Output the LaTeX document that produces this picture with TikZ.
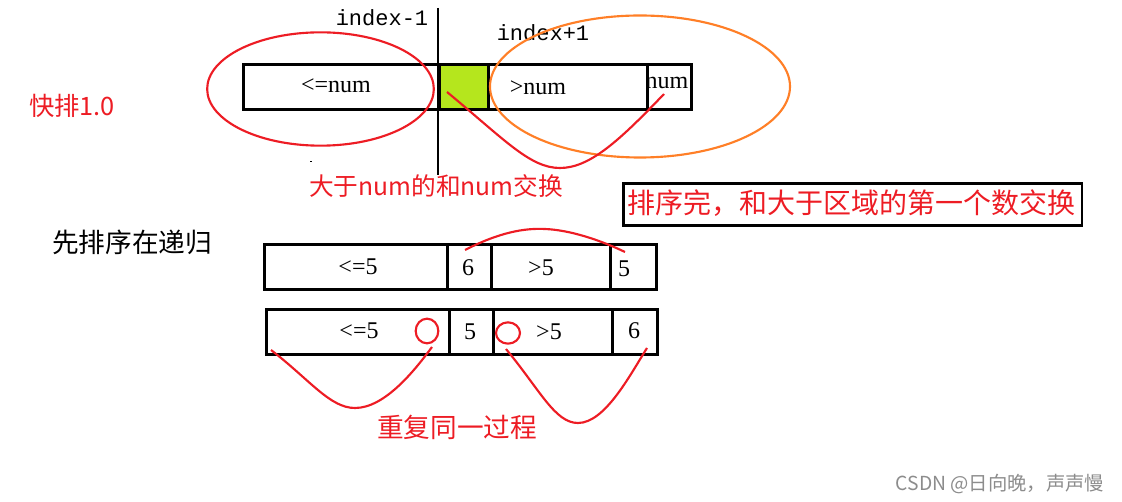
\documentclass[tikz,border=0pt]{standalone}
\usepackage{fontspec}
\usetikzlibrary{shapes.geometric}
\setmainfont{Liberation Serif}
\newfontfamily\cjk{Noto Sans CJK SC}
\newfontfamily\monof{Liberation Mono}
\definecolor{pred}{HTML}{ED1C24}
\definecolor{porange}{HTML}{FF7F27}
\definecolor{pgreen}{HTML}{B5E61D}
\begin{document}
\begin{tikzpicture}[x=0.75pt,y=-0.75pt,
  cell/.style={draw=black,line width=2.2pt,minimum height=33.75pt,inner sep=0pt,anchor=north west},
  redline/.style={draw=pred,line width=1.6pt},
  num/.style={font=\fontsize{18}{20}\selectfont,inner sep=0pt},
  lbl/.style={font=\cjk\fontsize{20}{22}\selectfont,inner sep=0pt},
  redtxt/.style={lbl,text=pred}]
\useasboundingbox (0,0) rectangle (1122,502);
% row 1
\node[cell,minimum width=147pt] (a1) at (242,63) {};
\node[cell,minimum width=36.75pt,fill=pgreen] (a2) at (438,63) {};
\node[cell,minimum width=119.25pt] (a3) at (487,63) {};
\node[cell,minimum width=33pt] (a4) at (646,63) {};
\node[num] (t1) at (336,86) {<=num};
\node[num] (t3) at (538,88) {>num};
\node[num] (t4) at (667,83) {num};
\draw[line width=2.2pt] (438,8) coordinate (v1) -- (438,175) coordinate (v2);
\node[font=\monof\fontsize{16.5}{18}\selectfont,inner sep=0pt] (i1) at (382,18) {index-1};
\node[font=\monof\fontsize{16.5}{18}\selectfont,inner sep=0pt] (i2) at (543,33) {index+1};
\node[draw=pred,line width=1.6pt,ellipse,minimum width=170pt,minimum height=85pt,inner sep=0pt] (e1) at (320.5,89) {};
\node[draw=porange,line width=1.6pt,ellipse,minimum width=225pt,minimum height=106.5pt,inner sep=0pt] (e2) at (640,86.5) {};
\coordinate (c1s) at (447,92);
\coordinate (c1e) at (664,94);
\draw[redline] (c1s) .. controls (505,140) and (530,168) .. (560,168) .. controls (590,168) and (620,140) .. (c1e);
\fill (310,161) rectangle (312,162);
\node[redtxt,font=\cjk\fontsize{18.5}{20}\selectfont] (s1) at (436,186) {大于num的和num交换};
\node[redtxt,font=\cjk\fontsize{19}{20}\selectfont] (s0) at (72,106) {快排1.0};
\node[draw=black,line width=2pt,minimum width=344pt,minimum height=31.5pt,inner sep=0pt,anchor=north west] (b1) at (622,182) {};
\node[redtxt,font=\cjk\fontsize{21}{23}\selectfont] (b1t) at (851,203) {排序完，和大于区域的第一个数交换};
\node[lbl] (s2) at (132,242) {先排序在递归};
% row 2
\node[cell,minimum width=137.25pt] (b2a) at (263,243) {};
\node[cell,minimum width=33pt] (b2b) at (446,243) {};
\node[cell,minimum width=89.25pt] (b2c) at (490,243) {};
\node[cell,minimum width=34.5pt] (b2d) at (609,243) {};
\node[num] at (358,267) {<=5};
\node[num] at (468,268) {6};
\node[num] at (541,268) {>5};
\node[num] at (624,269) {5};
\draw[redline] (465,250) .. controls (500,232) and (525,228) .. (545,229) .. controls (570,230) and (600,240) .. (625,252);
% row 3
\node[cell,minimum width=137.25pt] (b3a) at (265,308) {};
\node[cell,minimum width=33pt] (b3b) at (448,308) {};
\node[cell,minimum width=89.25pt] (b3c) at (492,308) {};
\node[cell,minimum width=33.75pt] (b3d) at (611,308) {};
\node[num] at (359,331) {<=5};
\node[num] at (470,332) {5};
\node[num] at (549,332) {>5};
\node[num] at (634,331) {6};
\node[draw=pred,line width=1.6pt,ellipse,minimum width=17pt,minimum height=18.5pt,inner sep=0pt] (o1) at (427,331) {};
\node[draw=pred,line width=1.6pt,ellipse,minimum width=18pt,minimum height=16pt,inner sep=0pt] (o2) at (508,333) {};
\draw[redline] (271,350) .. controls (310,380) and (330,408) .. (355,408) .. controls (385,408) and (415,370) .. (432,347);
\draw[redline] (506,349) .. controls (540,390) and (555,423) .. (578,423) .. controls (605,423) and (630,375) .. (647,348);
\node[redtxt] (s3) at (457,427) {重复同一过程};
\node[font=\cjk\fontsize{14.5}{16}\selectfont,text=black!45,inner sep=0pt] (wm) at (1000,484) {CSDN @日向晚，声声慢};
\end{tikzpicture}
\end{document}
